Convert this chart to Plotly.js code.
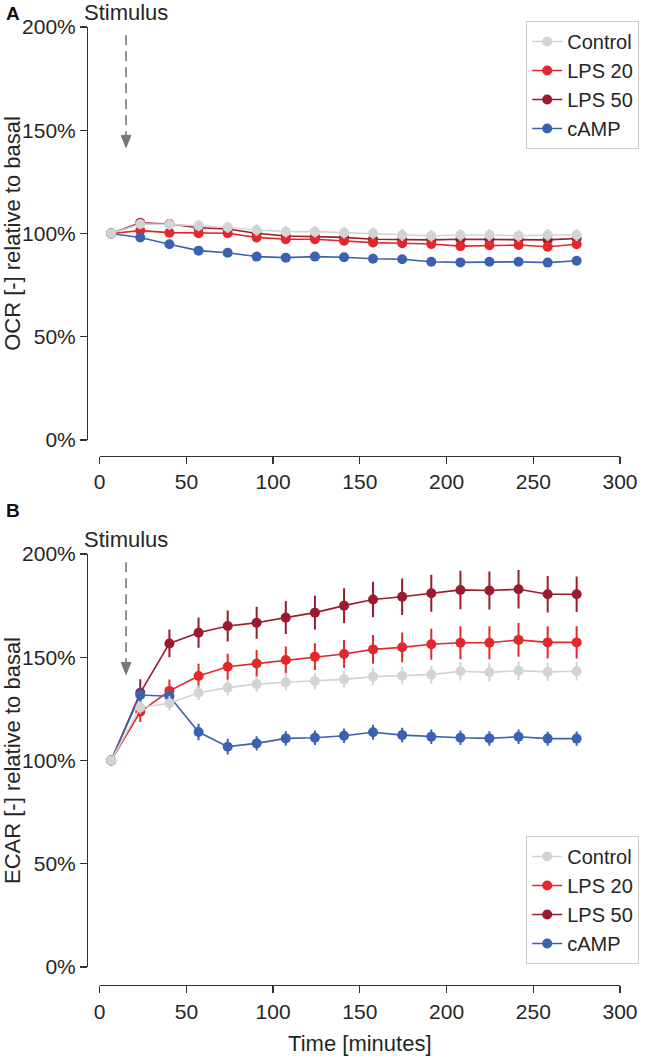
<!DOCTYPE html>
<html>
<head>
<meta charset="utf-8">
<script src="https://cdn.plot.ly/plotly-3.0.1.min.js"></script>
<style>
  html, body { margin: 0; padding: 0; background: #fff; }
  #chart { width: 651px; height: 1061px; }
</style>
</head>
<body>
<div id="chart"></div>
<script>
// ---- data ----
const times = [6.6, 23.4, 40.2, 57.0, 73.8, 90.5, 107.3, 124.1, 140.9, 157.6, 174.4, 191.2, 208.0, 224.7, 241.5, 258.3, 275.0];

const seriesNames = ["Control", "LPS 20", "LPS 50", "cAMP"];

// Panel A: OCR relative to basal (%)
const ocrControl = [100, 104.6, 104.4, 103.8, 103.0, 101.7, 100.9, 100.9, 100.4, 100.1, 99.3, 98.9, 99.3, 99.3, 98.9, 99.3, 99.3];
const ocrLps20   = [100, 101.4, 100.4, 100.1, 100.1, 98.1, 97.2, 97.2, 96.5, 95.6, 95.3, 94.9, 93.9, 94.3, 94.4, 93.6, 94.8];
const ocrLps50   = [100, 105.2, 104.6, 102.8, 102.2, 100.1, 98.8, 98.5, 98.1, 97.2, 96.9, 96.9, 97.2, 97.2, 97.2, 96.9, 97.6];
const ocrCamp    = [100, 98.1, 94.8, 91.7, 90.7, 88.8, 88.3, 88.8, 88.5, 87.8, 87.5, 86.3, 86.0, 86.3, 86.3, 85.9, 86.8];

const ocrControlErr = [0, 2.6, 2.6, 2.7, 2.7, 2.8, 2.8, 2.8, 2.8, 2.8, 2.9, 2.9, 2.9, 2.9, 2.9, 2.9, 2.9];
const ocrLps20Err   = [0, 2.0, 2.0, 2.1, 2.1, 2.2, 2.2, 2.2, 2.2, 2.3, 2.3, 2.3, 2.3, 2.3, 2.3, 2.3, 2.3];
const ocrLps50Err   = [0, 1.8, 1.8, 1.9, 1.9, 2.0, 2.0, 2.0, 2.0, 2.0, 2.1, 2.1, 2.1, 2.1, 2.1, 2.1, 2.1];
const ocrCampErr    = [0, 1.0, 1.1, 1.1, 1.2, 1.2, 1.2, 1.2, 1.2, 1.2, 1.2, 1.2, 1.2, 1.2, 1.2, 1.2, 1.2];

// Panel B: ECAR relative to basal (%)
const ecarControl = [100, 125.7, 127.7, 132.8, 135.3, 137.0, 137.9, 138.5, 139.3, 140.6, 141.1, 141.6, 143.2, 142.7, 143.5, 142.9, 143.2];
const ecarLps20   = [100, 123.6, 133.7, 140.9, 145.4, 147.0, 148.7, 150.3, 151.6, 153.8, 154.8, 156.3, 157.0, 157.0, 158.4, 157.2, 157.2];
const ecarLps50   = [100, 132.8, 156.7, 161.9, 165.1, 166.7, 169.2, 171.6, 175.0, 178.0, 179.3, 181.0, 182.6, 182.3, 182.9, 180.5, 180.5];
const ecarCamp    = [100, 131.7, 131.1, 113.8, 106.7, 108.3, 110.7, 111.0, 112.0, 113.7, 112.3, 111.5, 111.0, 110.7, 111.5, 110.6, 110.6];

const ecarControlErr = [0, 3.0, 3.5, 3.5, 3.8, 3.8, 4.0, 4.0, 4.0, 4.2, 4.2, 4.3, 4.5, 4.5, 4.5, 4.5, 4.5];
const ecarLps20Err   = [0, 5.0, 5.5, 6.0, 6.3, 6.5, 6.5, 6.5, 6.8, 7.0, 7.2, 7.5, 8.0, 8.0, 8.2, 7.8, 7.8];
const ecarLps50Err   = [0, 6.5, 6.7, 7.3, 7.5, 7.7, 8.0, 8.2, 8.4, 8.6, 8.8, 9.0, 9.3, 9.2, 9.3, 8.8, 8.6];
const ecarCampErr    = [0, 3.5, 3.5, 4.0, 3.8, 3.5, 3.5, 3.5, 3.5, 3.6, 3.5, 3.5, 3.5, 3.5, 3.5, 3.5, 3.5];

const xTickVals = [0, 50, 100, 150, 200, 250, 300];
const yTickVals = [0, 50, 100, 150, 200];
const yTickText = ["0%", "50%", "100%", "150%", "200%"];

const stimulusTime = 15.2;

// ---- styling ----
const colors = { "Control": "#d3d3d3", "LPS 20": "#e2282c", "LPS 50": "#9b1a2e", "cAMP": "#3a62b0" };
const ranks = { "Control": 1, "LPS 20": 2, "LPS 50": 3, "cAMP": 4 };
const FONT = "Liberation Sans, Arial, Helvetica, sans-serif";
const AX = "#333333";
const TXT = "#262626";
const TICK_SIZE = 21, TITLE_SIZE = 22, LEGEND_SIZE = 20;

function trace(name, y, err, xa, ya, legendId) {
  return {
    type: "scatter", mode: "lines+markers", name: name,
    x: times, y: y,
    xaxis: xa, yaxis: ya, legend: legendId, legendrank: ranks[name],
    line: { color: colors[name], width: 1.6 },
    marker: { color: colors[name], size: 10 },
    error_y: { type: "data", array: err, visible: true, color: colors[name], thickness: 2, width: 0 },
    cliponaxis: false, hoverinfo: "skip"
  };
}

const data = [
  trace("LPS 50", ocrLps50, ocrLps50Err, "x", "y", "legend"),
  trace("LPS 20", ocrLps20, ocrLps20Err, "x", "y", "legend"),
  trace("cAMP", ocrCamp, ocrCampErr, "x", "y", "legend"),
  trace("Control", ocrControl, ocrControlErr, "x", "y", "legend"),
  trace("LPS 50", ecarLps50, ecarLps50Err, "x2", "y2", "legend2"),
  trace("LPS 20", ecarLps20, ecarLps20Err, "x2", "y2", "legend2"),
  trace("cAMP", ecarCamp, ecarCampErr, "x2", "y2", "legend2"),
  trace("Control", ecarControl, ecarControlErr, "x2", "y2", "legend2")
];

function xAxis(pos, title) {
  const a = {
    domain: [0.0238, 1], range: [0, 300], anchor: "free", position: pos,
    tickvals: xTickVals, ticks: "outside", ticklen: 7, tickwidth: 1.3, tickcolor: AX,
    showline: true, linecolor: AX, linewidth: 1.3, showgrid: false, zeroline: false,
    tickfont: { family: FONT, size: TICK_SIZE, color: TXT }, fixedrange: true
  };
  if (title) a.title = { text: title, font: { family: FONT, size: TITLE_SIZE, color: TXT }, standoff: 14 };
  return a;
}
function yAxis(domain, title) {
  return {
    domain: domain, range: [0, 200], anchor: "free", position: 0,
    tickvals: yTickVals, ticktext: yTickText, ticks: "outside", ticklen: 7, tickwidth: 1.3, tickcolor: AX,
    showline: true, linecolor: AX, linewidth: 1.3, showgrid: false, zeroline: false,
    tickfont: { family: FONT, size: TICK_SIZE, color: TXT }, fixedrange: true,
    title: { text: title, font: { family: FONT, size: TITLE_SIZE, color: TXT }, standoff: 3 }
  };
}

function legendBox(y) {
  return {
    x: 0.824, y: y, xanchor: "left", yanchor: "top",
    bgcolor: "#ffffff", bordercolor: "#cccccc", borderwidth: 1,
    font: { family: FONT, size: LEGEND_SIZE, color: TXT },
    tracegroupgap: 0, itemwidth: 30
  };
}

function stimulusShapes(xr, yr) {
  return [
    { type: "line", xref: xr, yref: yr, x0: stimulusTime, x1: stimulusTime, y0: 196, y1: 147.5,
      line: { color: "#777777", width: 1.6, dash: "10px,6px" } },
    { type: "path", xref: xr, yref: yr,
      path: "M " + (stimulusTime - 2.8) + " 147.5 L " + (stimulusTime + 2.8) + " 147.5 L " + stimulusTime + " 141.7 Z",
      fillcolor: "#777777", line: { color: "#777777", width: 1 } }
  ];
}

function stimulusLabel(xr, yr) {
  return { xref: xr, yref: yr + " domain", x: stimulusTime, y: 1.034, xanchor: "center", yanchor: "middle",
    text: "Stimulus", showarrow: false, font: { family: FONT, size: TITLE_SIZE, color: TXT } };
}

const layout = {
  width: 651, height: 1061,
  margin: { l: 87, r: 17, t: 27, b: 76 },
  paper_bgcolor: "#ffffff", plot_bgcolor: "#ffffff",
  font: { family: FONT, size: TICK_SIZE, color: TXT },
  xaxis: xAxis(0.5522, null),
  yaxis: yAxis([0.5689, 1], "OCR [-] relative to basal"),
  xaxis2: xAxis(0, "Time [minutes]"),
  yaxis2: yAxis([0.01879, 0.4499], "ECAR [-] relative to basal"),
  legend: legendBox(1.0063),
  legend2: legendBox(0.1556),
  showlegend: true,
  shapes: stimulusShapes("x", "y").concat(stimulusShapes("x2", "y2")),
  annotations: [
    { xref: "paper", yref: "paper", x: -0.1554, y: 1.0146, xanchor: "left", yanchor: "middle",
      text: "<b>A</b>", showarrow: false, font: { family: FONT, size: 19, color: "#111" } },
    { xref: "paper", yref: "paper", x: -0.1554, y: 0.4958, xanchor: "left", yanchor: "middle",
      text: "<b>B</b>", showarrow: false, font: { family: FONT, size: 19, color: "#111" } },
    stimulusLabel("x", "y"),
    stimulusLabel("x2", "y2")
  ]
};

Plotly.newPlot("chart", data, layout, { displayModeBar: false, staticPlot: true });
</script>
</body>
</html>
